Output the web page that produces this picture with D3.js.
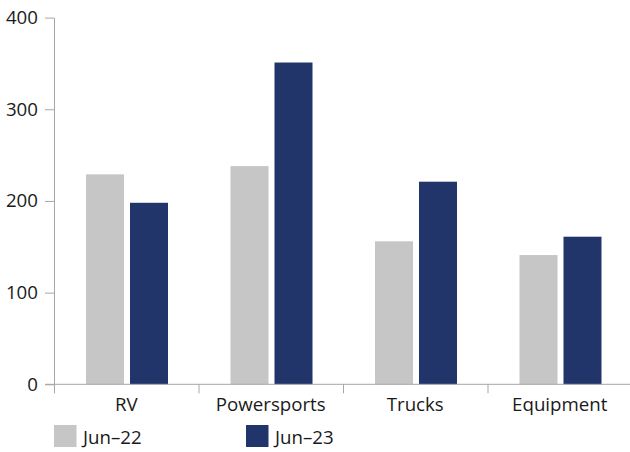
<!DOCTYPE html>
<html>
<head>
<meta charset="utf-8">
<script src="https://cdn.jsdelivr.net/npm/d3@7"></script>
<style>
  body { margin: 0; background: #fff; }
  svg { display: block; font-family: 'Open Sans', sans-serif; }
</style>
</head>
<body>
<svg id="chart" width="630" height="452"></svg>
<script>
const categories = ['RV', 'Powersports', 'Trucks', 'Equipment']
const seriesNames = ['Jun–22', 'Jun–23']
const jun22 = [229, 238, 156, 141]
const jun23 = [198, 351, 221, 161]
const yTicks = [0, 100, 200, 300, 400]

const colors = ['#c6c6c6', '#21356b']
const axisColor = '#a6a6a6'
const textColor = '#1a1a1a'
const fontSize = '18.7px'

const margin = { top: 17.6, right: 0, bottom: 67.7, left: 54 }
const width = 632 - margin.left - margin.right
const height = 452 - margin.top - margin.bottom

const svg = d3.select('#chart')
const g = svg.append('g')
  .attr('transform', `translate(${margin.left},${margin.top})`)

const x = d3.scaleBand()
  .domain(categories)
  .range([0, width])

const xSub = d3.scaleBand()
  .domain([0, 1])
  .range([32, 114])
  .paddingInner(0.136)

const y = d3.scaleLinear()
  .domain([0, 400])
  .range([height, 0])

// bars
const data = categories.map((c, i) => ({ cat: c, values: [jun22[i], jun23[i]] }))

g.selectAll('.group')
  .data(data)
  .enter()
  .append('g')
  .attr('class', 'group')
  .attr('transform', d => `translate(${x(d.cat)},0)`)
  .selectAll('rect')
  .data(d => d.values.map((v, j) => ({ j, v })))
  .enter()
  .append('rect')
  .attr('x', d => xSub(d.j))
  .attr('width', xSub.bandwidth())
  .attr('y', d => y(d.v))
  .attr('height', d => height - y(d.v))
  .attr('fill', d => colors[d.j])

// y axis
const yAxis = g.append('g')
  .call(d3.axisLeft(y).tickValues(yTicks).tickSize(9).tickSizeOuter(0).tickPadding(7))
yAxis.select('.domain').attr('stroke', axisColor)
yAxis.selectAll('.tick line').attr('stroke', axisColor)
yAxis.selectAll('.tick text')
  .attr('fill', textColor)
  .style('font-size', fontSize)
  .style('font-family', 'Open Sans')

// x axis baseline and band ticks
const xAxis = g.append('g')
  .attr('transform', `translate(0,${height})`)
xAxis.append('line')
  .attr('x1', -9)
  .attr('x2', width)
  .attr('stroke', axisColor)
xAxis.selectAll('.sep')
  .data(categories.concat(['end']))
  .enter()
  .append('line')
  .attr('class', 'sep')
  .attr('x1', (d, i) => i * x.bandwidth() + 0.5)
  .attr('x2', (d, i) => i * x.bandwidth() + 0.5)
  .attr('y1', 0)
  .attr('y2', 9)
  .attr('stroke', axisColor)
xAxis.selectAll('.label')
  .data(categories)
  .enter()
  .append('text')
  .attr('x', d => x(d) + x.bandwidth() / 2)
  .attr('y', 26.5)
  .attr('text-anchor', 'middle')
  .attr('fill', textColor)
  .style('font-size', fontSize)
  .text(d => d)

// legend
const legend = svg.append('g')
  .attr('transform', 'translate(54,425)')
legend.selectAll('.item')
  .data(seriesNames)
  .enter()
  .append('g')
  .attr('class', 'item')
  .attr('transform', (d, i) => `translate(${i * 192},0)`)
  .each(function (d, i) {
    const item = d3.select(this)
    item.append('rect')
      .attr('width', 22.5)
      .attr('height', 22)
      .attr('fill', colors[i])
    item.append('text')
      .attr('x', 29)
      .attr('y', 18.5)
      .attr('fill', textColor)
      .style('font-size', fontSize)
      .text(d)
  })
</script>
</body>
</html>
